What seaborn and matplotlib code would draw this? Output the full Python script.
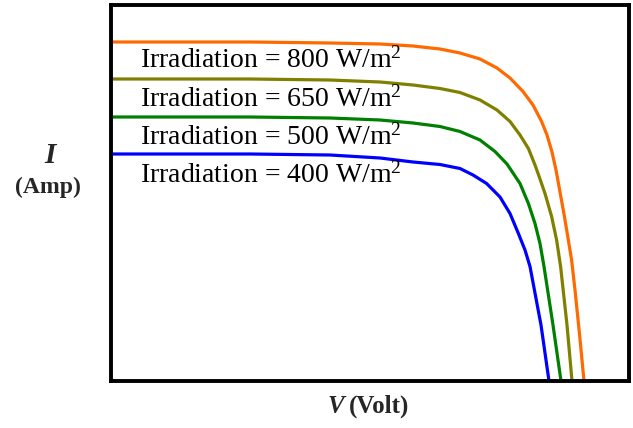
import numpy as np
import pandas as pd
import matplotlib
matplotlib.use("Agg")
import matplotlib.pyplot as plt
import seaborn as sns

# ---- data (arbitrary V / I units) ----
labels = ["Irradiation = 800 W/m$^{2}$", "Irradiation = 650 W/m$^{2}$",
          "Irradiation = 500 W/m$^{2}$", "Irradiation = 400 W/m$^{2}$"]
series = ["800", "650", "500", "400"]

v_800 = [0, 6.95, 10.95, 13.45, 15.1, 16.45, 17.45, 18.45, 19.3, 19.95, 20.6, 21.1, 21.53,
         21.8, 22.05, 22.25, 22.45, 22.65, 22.85, 23.03, 23.2, 23.43, 23.65]
i_800 = [6.78, 6.78, 6.76, 6.74, 6.70, 6.64, 6.56, 6.44, 6.26, 6.06, 5.79, 5.52, 5.19,
         4.92, 4.58, 4.22, 3.78, 3.34, 2.86, 2.42, 1.82, 0.92, 0.0]

v_650 = [0, 6.95, 10.95, 13.45, 15.1, 16.45, 17.45, 18.45, 19.3, 19.95, 20.45, 20.87, 21.2,
         21.38, 21.7, 22.03, 22.28, 22.48, 22.8, 23.05]
i_650 = [6.04, 6.04, 6.02, 5.98, 5.92, 5.85, 5.77, 5.62, 5.42, 5.19, 4.92, 4.65, 4.32,
         4.12, 3.75, 3.29, 2.82, 2.29, 1.12, 0.0]

v_500 = [0, 6.95, 10.95, 13.45, 15.1, 16.45, 17.45, 18.45, 19.2, 19.8, 20.45, 20.87, 21.2,
         21.45, 21.65, 22.1, 22.5]
i_500 = [5.28, 5.28, 5.26, 5.22, 5.16, 5.09, 4.99, 4.82, 4.59, 4.34, 3.95, 3.55, 3.15,
         2.75, 2.29, 1.12, 0.0]

v_400 = [0, 6.95, 10.95, 13.45, 15.1, 16.45, 17.45, 18.1, 18.78, 19.45, 19.95, 20.37, 20.7,
         20.95, 21.5, 21.9]
i_400 = [4.54, 4.54, 4.52, 4.46, 4.38, 4.33, 4.25, 4.12, 3.95, 3.68, 3.35, 2.95, 2.62,
         2.29, 1.12, 0.0]

colors = ["#ff6a00", "#808000", "#008000", "#0000ff"]

frames = []
for s, v, i in zip(series, [v_800, v_650, v_500, v_400], [i_800, i_650, i_500, i_400]):
    frames.append(pd.DataFrame({"V": v, "I": i, "G": s}))
df = pd.concat(frames, ignore_index=True)

sns.set_style("white")
plt.rcParams["font.family"] = ["Liberation Serif", "DejaVu Serif"]
plt.rcParams["mathtext.fontset"] = "custom"
plt.rcParams["mathtext.rm"] = "Liberation Serif"
plt.rcParams["mathtext.it"] = "Liberation Serif:italic"
plt.rcParams["mathtext.bf"] = "Liberation Serif:bold"
plt.rcParams["mathtext.default"] = "regular"

fig = plt.figure(figsize=(6.33, 4.28), dpi=100)
ax = fig.add_axes([111 / 633, 47 / 428, 518 / 633, 376 / 428])

sns.lineplot(data=df, x="V", y="I", hue="G", palette=dict(zip(series, colors)),
             sort=False, estimator=None, units="G", linewidth=2.3, legend=False, ax=ax)
for ln in ax.get_lines():
    ln.set_solid_joinstyle("round")
    ln.set_solid_capstyle("butt")

ax.set_xlim(0, 25.9)
ax.set_ylim(0, 7.52)
ax.set_xticks([])
ax.set_yticks([])
ax.set_xlabel("")
ax.set_ylabel("")
for sp in ax.spines.values():
    sp.set_visible(True)
    sp.set_color("black")
    sp.set_linewidth(2.8)

baselines = [68, 107, 145, 183]
for lab, b in zip(labels, baselines):
    ax.text((140 - 111) / 518, (381 - b) / 376, lab, transform=ax.transAxes,
            fontsize=20, color="black", ha="left", va="baseline")

fig.text(50 / 633, 1 - 163 / 428, "I", fontsize=21, fontweight="bold", fontstyle="italic",
         ha="center", va="baseline")
fig.text(48 / 633, 1 - 193 / 428, "(Amp)", fontsize=17, fontweight="bold",
         ha="center", va="baseline")
fig.text(328 / 633, 1 - 413 / 428, "V", fontsize=18, fontweight="bold", fontstyle="italic",
         ha="left", va="baseline")
fig.text(349 / 633, 1 - 413 / 428, "(Volt)", fontsize=18, fontweight="bold",
         ha="left", va="baseline")

fig.savefig("out.png", dpi=100)
